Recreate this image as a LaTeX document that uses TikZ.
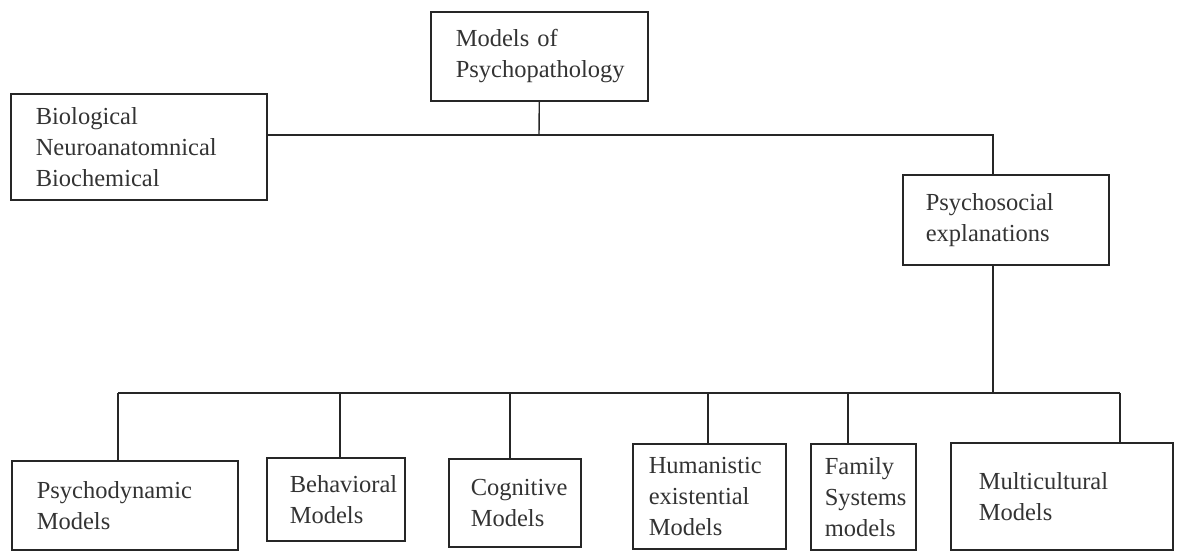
\documentclass[tikz,border=0pt]{standalone}
\usepackage{fontspec}
\setmainfont{Liberation Serif}
\usetikzlibrary{positioning}

\tikzset{
  box/.style={draw=black!85, line width=1.6pt, anchor=north west, align=left,
    inner ysep=0pt, font=\fontsize{24.5}{31}\selectfont, text=black!80},
  link/.style={draw=black!85, line width=1.4pt}
}

\begin{document}
\begin{tikzpicture}[x=1pt, y=-1pt]
\useasboundingbox (0,0) rectangle (1178,550);
% top level
\node[box, text width=167pt, inner xsep=25pt, minimum height=89pt] (mp) at (430,11) {Models of\\Psychopathology};
\node[box, text width=206pt, inner xsep=25pt, minimum height=106pt] (bio) at (10,93) {Biological\\Neuroanatomnical\\Biochemical};
\node[box, text width=160pt, inner xsep=23pt, minimum height=90pt] (psy) at (902,174) {Psychosocial\\explanations};
% bottom row
\node[box, text width=176pt, inner xsep=25pt, minimum height=89pt] (pd) at (11,460) {Psychodynamic\\Models};
\node[box, text width=92pt, inner xsep=23pt, minimum height=83pt] (bh) at (266,457) {Behavioral\\Models};
\node[box, text width=88pt, inner xsep=22pt, minimum height=88pt] (cg) at (448,458) {Cognitive\\Models};
\node[box, text width=121pt, inner xsep=16pt, minimum height=105pt] (hu) at (632,443) {Humanistic\\existential\\Models};
\node[box, text width=77pt, inner xsep=14pt, minimum height=106pt] (fs) at (810,443) {Family\\Systems\\models};
\node[box, text width=166pt, inner xsep=28pt, minimum height=107pt] (mc) at (950,442) {Multicultural\\Models};
% connectors
\coordinate (top) at (539,135);
\coordinate (mid) at (993,393);
\draw[link] (mp.south) -- (top);
\draw[link] (bio.east |- top) -- (top -| mid) -- (psy.north -| mid);
\draw[link] (psy.south -| mid) -- (mid);
\coordinate (left) at (118,393);
\coordinate (right) at (1120,393);
\draw[link] (left) -- (right);
\foreach \n/\x in {pd/118, bh/340, cg/510, hu/708, fs/848, mc/1120}
  \draw[link] (\x,393) -- (\n.north -| \x,0);
\end{tikzpicture}
\end{document}
